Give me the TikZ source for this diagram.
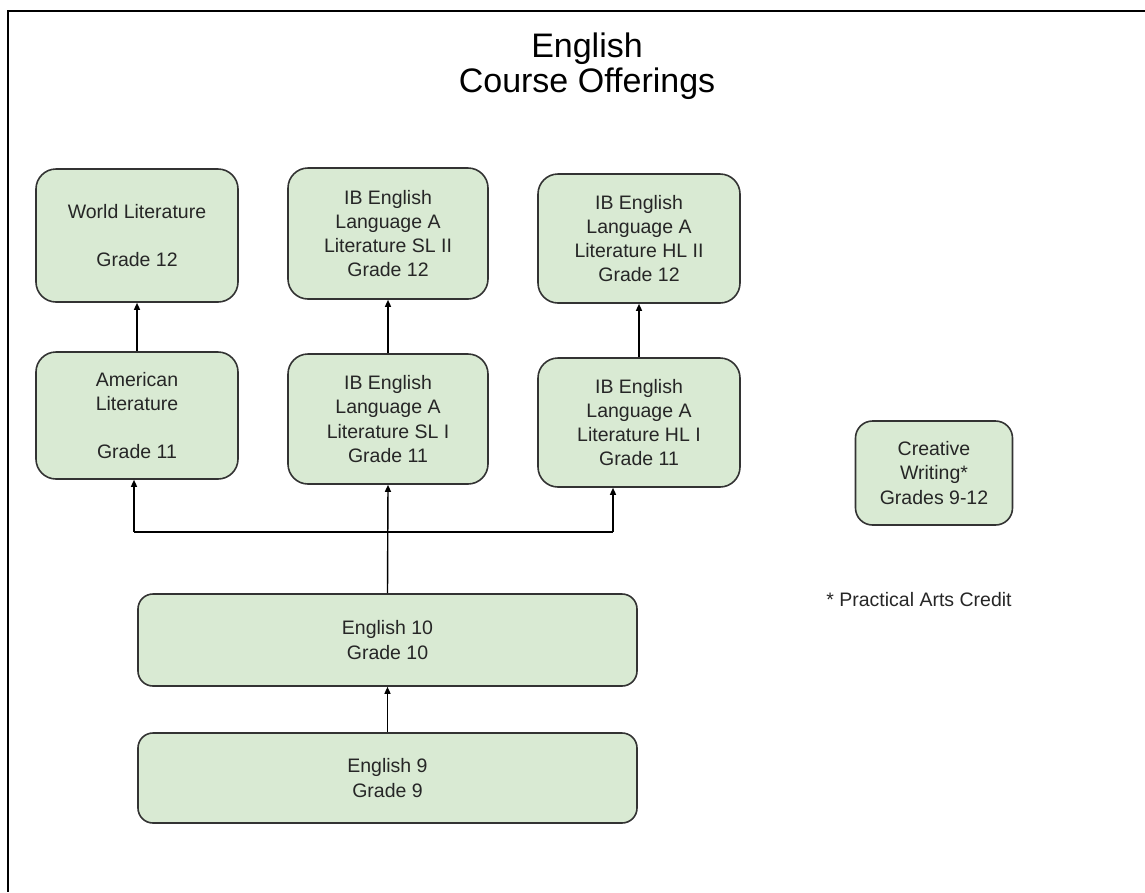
\documentclass[tikz,border=0pt]{standalone}
\usepackage{fontspec}
\setmainfont{Liberation Sans}
\usetikzlibrary{arrows.meta}
\definecolor{boxfill}{HTML}{D9EAD3}
\definecolor{boxline}{HTML}{333333}
\definecolor{txt}{HTML}{262626}
\begin{document}
\begin{tikzpicture}[x=1pt,y=-1pt,
  course/.style={draw=boxline,fill=boxfill,line width=1.6pt,rounded corners=20pt,
    inner sep=0pt,align=center,text=txt,font=\fontsize{19.5}{24.3}\selectfont},
  wide/.style={course,rounded corners=15pt},
  conn/.style={line width=1.4pt,black,-{Triangle[length=7pt,width=6pt]}},
  plain/.style={line width=1.4pt,black}]
\useasboundingbox (0,0) rectangle (1145,892);
\draw[line width=2pt,black] (1145,11) -- (8,11) -- (8,892);
\node[align=center,font=\fontsize{34}{35}\selectfont,text=black] (title) at (587,66) {English\\Course Offerings};

\node[course,minimum width=202pt,minimum height=133pt] (wl) at (137,235.5) {World Literature\\[24.3pt]Grade 12};
\node[course,minimum width=200pt,minimum height=131pt] (sl2) at (388,233.5) {IB English\\Language A\\Literature SL II\\Grade 12};
\node[course,minimum width=202pt,minimum height=129pt] (hl2) at (639,238.5) {IB English\\Language A\\Literature HL II\\Grade 12};

\node[course,minimum width=202pt,minimum height=127pt] (am) at (137,415.5) {American\\Literature\\[24.3pt]Grade 11};
\node[course,minimum width=200pt,minimum height=130pt] (sl1) at (388,419) {IB English\\Language A\\Literature SL I\\Grade 11};
\node[course,minimum width=202pt,minimum height=129pt] (hl1) at (639,422.5) {IB English\\Language A\\Literature HL I\\Grade 11};

\node[course,rounded corners=17pt,minimum width=157pt,minimum height=104pt] (cw) at (934,473) {Creative\\Writing*\\Grades 9-12};
\node[text=txt,font=\fontsize{19.5}{24.3}\selectfont] (note) at (919,600) {* Practical Arts Credit};

\node[wide,minimum width=499pt,minimum height=92pt] (e10) at (387.5,640) {English 10\\Grade 10};
\node[wide,minimum width=499pt,minimum height=90pt] (e9) at (387.5,778) {English 9\\Grade 9};

\draw[conn] (am) -- (wl);
\draw[conn] (sl1) -- (sl2);
\draw[conn] (hl1) -- (hl2);
\draw[conn] (e9) -- (e10);
\draw[conn] (e10.north) -- (sl1.south);
\coordinate (jl) at (134,532);
\coordinate (jr) at (613,532);
\draw[plain] (jl) -- (jr);
\draw[conn] (jl) -- (jl |- am.south);
\draw[conn] (jr) -- (jr |- hl1.south);
\end{tikzpicture}
\end{document}
